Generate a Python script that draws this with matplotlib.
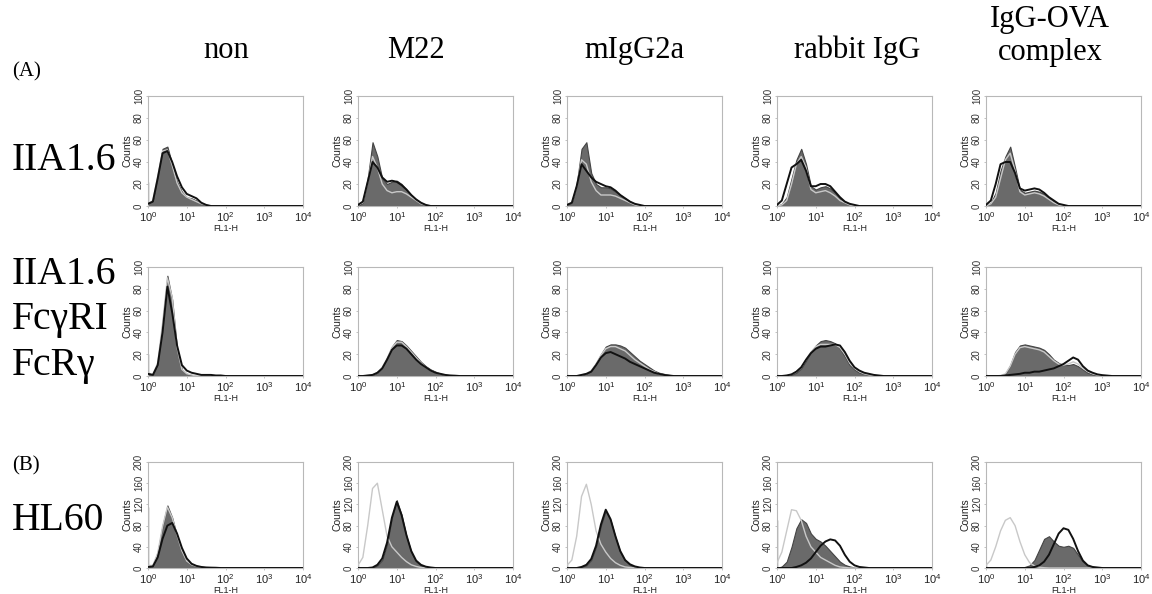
import numpy as np
import matplotlib
matplotlib.use("Agg")
import matplotlib.pyplot as plt

plt.rcParams['font.family'] = ['Liberation Sans', 'DejaVu Sans']
plt.rcParams['mathtext.default'] = 'regular'

W, H = 1152, 594
NBIN = 33  # log10 grid 0..4 in steps of 1/8

col_titles = ["non", "M22", "mIgG2a", "rabbit IgG", ["IgG-OVA", "complex"]]
row_labels = [["IIA1.6"], ["IIA1.6", "Fc\u03b3RI", "FcR\u03b3"], ["HL60"]]
panel_letters = ["(A)", "(B)"]
row_ymax = [100, 100, 200]
row_yticks = [[0, 20, 40, 60, 80, 100], [0, 20, 40, 60, 80, 100], [0, 40, 80, 120, 160, 200]]
x_ticks = [1, 10, 100, 1000, 10000]
x_ticklabels = [r'$10^0$', r'$10^1$', r'$10^2$', r'$10^3$', r'$10^4$']
log_grid = [i / 8 for i in range(NBIN)]

# counts per bin (sample histogram, gray fill)
row1_filled = [[2,5,28,52,54,38,22,13,8,7,5,2,1],
               [0,3,25,58,45,25,20,22,23,20,15,10,6,3,1],
               [1,3,20,52,58,30,20,17,17,16,13,10,7,4,2,1],
               [0,2,8,25,42,52,38,18,15,17,18,16,12,7,4,2,1],
               [0,3,12,32,45,54,35,15,12,13,14,13,11,7,4,2,1]]
row1_black = [[2,4,25,48,50,40,27,17,11,9,7,3,1],
              [1,4,22,40,35,26,22,23,22,19,15,10,6,3,1],
              [1,3,18,38,32,26,22,20,18,17,14,10,7,4,2,1],
              [1,5,20,35,38,42,32,18,18,20,20,18,13,8,4,2,1],
              [1,5,20,38,40,40,30,16,14,15,16,15,12,8,5,2,1]]
row1_ctrl = [[2,5,27,50,51,37,21,12,8,6,4,2,1],
             [1,3,22,45,35,20,14,12,13,13,11,8,5,2,1],
             [1,3,18,42,38,22,14,10,10,10,9,7,5,3,1],
             [0,1,5,20,38,45,35,15,12,13,14,12,9,5,3,1],
             [0,2,8,25,42,48,32,13,10,11,12,11,9,6,3,1]]

row2_filled = [[3,1,12,50,92,70,25,6,2,1],
               [0,0,0.5,1,3,8,17,27,33,32,28,23,18,13,9,6,4,2,1,0.5,0.3],
               [0,0,0,1,2,5,12,20,27,29,29,28,26,22,18,14,11,8,5,3,2,1,0.5],
               [0,0,0.5,1,3,7,14,22,28,32,33,32,30,25,18,10,6,3,2,1,0.5],
               [0,0,0,0.5,2,10,22,28,29,28,27,26,24,20,15,12,10,10,11,9,6,3,1.5,0.5,0.3]]
row2_black = [[2,1,10,40,82,58,28,10,5,3,2,1,1,1,0.5,0.5],
              [0,0,0.5,1,3,7,15,24,28,28,25,20,15,11,8,5,3,2,1,0.5,0.3],
              [0,0,0,1,2,4,10,17,21,22,20,18,16,13,11,9,7,5,3,2,1,0.5],
              [0,0,0.5,1.5,4,8,15,21,25,27,27,28,29,28,22,14,8,5,3,2,1,0.5],
              [0,0,0,0,0.5,1,1.5,2,3,3,4,4,5,6,7,9,11,14,17,15,9,5,3,1.5,0.8,0.4]]
row2_ctrl = [[3,1,12,48,90,72,26,6,2,1],
             [0,0,0.5,1,3,8,16,26,31,31,27,22,17,12,8,5,3,2,1,0.5],
             [0,0,0,1,2,5,11,19,25,27,27,25,23,19,15,12,9,6,4,2,1,0.5],
             [0,0,0.5,1.5,4,8,15,22,27,29,29,29,29,26,20,12,7,4,2,1,0.5],
             [0,0,0,0.5,2,9,20,26,27,26,25,24,22,18,14,11,10,11,13,11,7,4,2,0.8,0.3]]

row3_filled = [[5,5,30,80,118,95,60,30,12,6,3,2,1,0.5],
               [0,0,0,0,5,15,45,95,128,100,60,30,12,5,2,1],
               [0,0,0,2,5,15,40,80,108,90,58,30,14,6,2,1],
               [0,3,12,40,75,92,85,65,55,50,42,32,22,12,6,3,1],
               [0,0,0,0,0,0,0,0,2,5,15,35,55,60,50,42,40,42,38,25,12,5,2,1]]
row3_black = [[2,3,20,55,80,85,65,38,18,8,4,2,1,0.7,0.5],
              [0,0,0,1,6,18,48,95,125,100,62,32,14,6,2.5,1],
              [0,0,0,2,6,17,42,82,110,92,60,32,15,7,3,1],
              [0,0,0,0,2,5,10,18,30,42,50,54,52,42,25,12,5,2,1],
              [0,0,0,0,0,0,0,0,0,0,2,5,12,25,45,65,75,72,55,32,14,5,2,1]]
row3_ctrl = [[5,5,28,78,115,95,62,32,13,6,3,2,1,0.5],
             [5,20,80,150,160,110,60,40,30,20,12,6,3,1],
             [5,15,60,135,158,120,70,45,30,18,10,5,2,1],
             [10,30,70,110,108,90,60,40,30,20,15,10,5,2,1],
             [5,15,40,70,90,95,80,50,25,10,4,1.5,0.5]]

# first-channel spike heights
first_bin = [[22, 3, 3, 3, 3], [20, 2, 2, 2, 2], [115, 5, 5, 90, 5]]

filled_rows = [row1_filled, row2_filled, row3_filled]
black_rows = [row1_black, row2_black, row3_black]
ctrl_rows = [row1_ctrl, row2_ctrl, row3_ctrl]


def pad(v):
    return np.array(list(v) + [0] * (NBIN - len(v)), dtype=float)


fig = plt.figure(figsize=(W / 100, H / 100), dpi=100)

col_left = [148, 358, 567, 777, 986]
col_w = 155
row_top = [96, 267, 462]
row_h = [110, 109, 106]

xvals = 10 ** np.array(log_grid)
for r in range(3):
    for c in range(5):
        rect = [col_left[c] / W, 1 - (row_top[r] + row_h[r]) / H, col_w / W, row_h[r] / H]
        ax = fig.add_axes(rect)
        f = pad(filled_rows[r][c])
        b = pad(black_rows[r][c])
        k = pad(ctrl_rows[r][c])
        ax.fill_between(xvals, 0, f, color='#6a6a6a', edgecolor='#444444', lw=0.8, zorder=2)
        ax.vlines(1.015, 0, first_bin[r][c], color='#777777', lw=1.0, zorder=2)
        ax.plot(xvals, k, color='#c8c8c8', lw=1.0, zorder=3)
        ax.plot(xvals, b, color='#111111', lw=1.4, zorder=4)
        ax.set_xscale('log')
        ax.set_xlim(1, 10000)
        ax.set_ylim(0, row_ymax[r])
        ax.set_xticks(x_ticks)
        ax.set_xticklabels(x_ticklabels, fontsize=8, color='#222222')
        ax.xaxis.set_minor_locator(matplotlib.ticker.NullLocator())
        ax.set_yticks(row_yticks[r])
        ax.set_yticklabels([str(t) for t in row_yticks[r]], fontsize=7, rotation=90,
                           va='center', color='#333333')
        ax.tick_params(axis='both', length=1.5, width=0.5, color='#aaaaaa', pad=1.5)
        ax.set_ylabel('Counts', fontsize=7.5, labelpad=1.0, color='#222222')
        ax.set_xlabel('FL1-H', fontsize=6.5, labelpad=0, color='#222222')
        for s in ax.spines.values():
            s.set_color('#b8b8b8')
            s.set_linewidth(0.8)

serif = ['Liberation Serif', 'DejaVu Serif']
title_x = [226, 416, 634, 857, 1050]
for c, t in enumerate(col_titles):
    if isinstance(t, list):
        fig.text(title_x[c] / W, 1 - 27 / H, t[0], fontsize=22, family=serif,
                 ha='center', va='baseline')
        fig.text(title_x[c] / W, 1 - 60 / H, t[1], fontsize=22, family=serif,
                 ha='center', va='baseline')
    else:
        fig.text(title_x[c] / W, 1 - 58 / H, t, fontsize=22, family=serif,
                 ha='center', va='baseline')

label_centers = [[161], [274, 320, 366], [520]]
for r, labs in enumerate(row_labels):
    for lab, yc in zip(labs, label_centers[r]):
        fig.text(12 / W, 1 - yc / H, lab, fontsize=28.5, family=serif, ha='left', va='center')

fig.text(12 / W, 1 - 72 / H, panel_letters[0], fontsize=15, family=serif, ha='left', va='center')
fig.text(12 / W, 1 - 466 / H, panel_letters[1], fontsize=15, family=serif, ha='left', va='center')

fig.savefig('out.png', dpi=100, facecolor='white')
